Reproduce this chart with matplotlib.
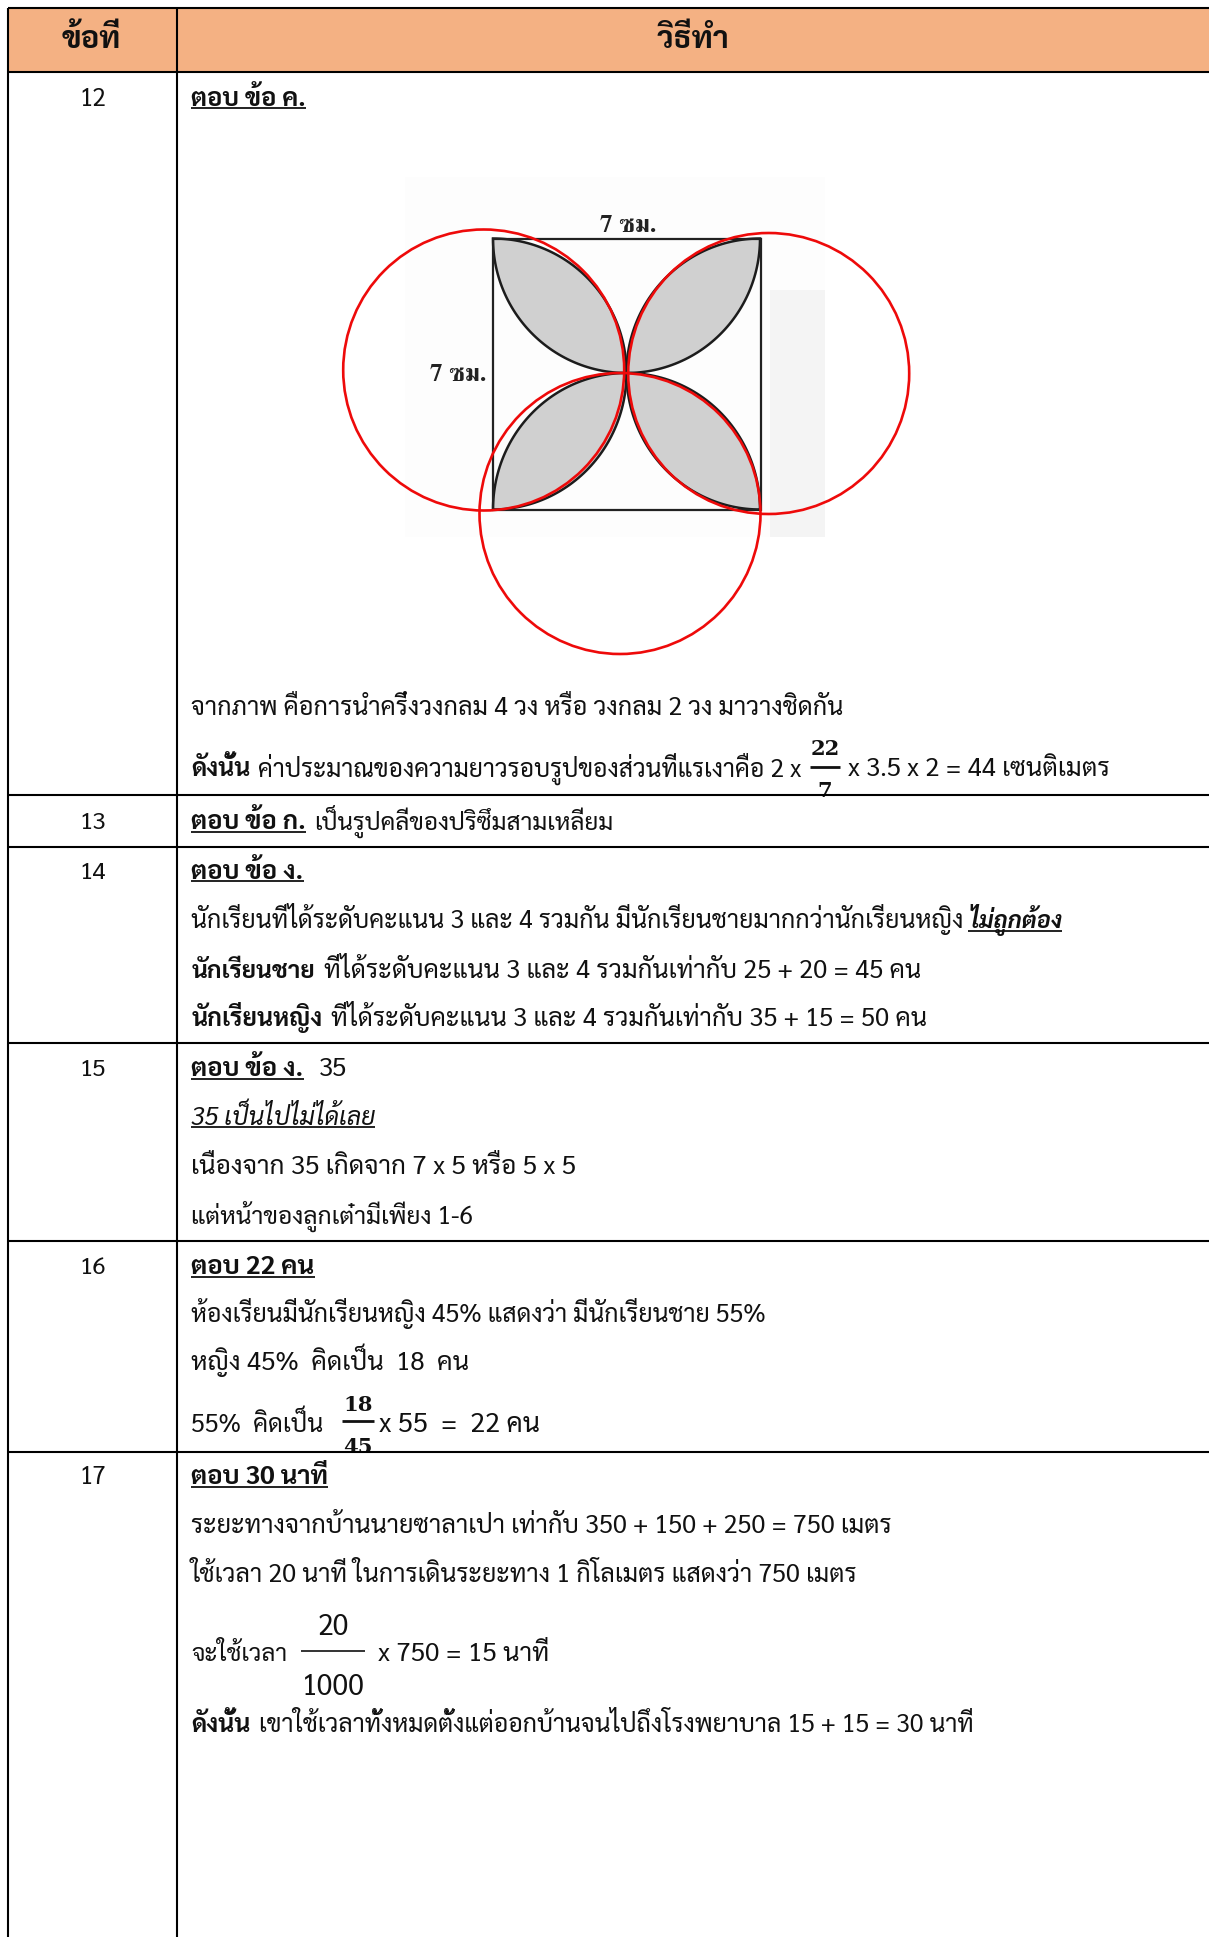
import numpy as np
import matplotlib
matplotlib.use('Agg')
import matplotlib.pyplot as plt
from matplotlib.patches import Rectangle, Circle, Polygon

plt.rcParams['font.family'] = ['Sarabun', 'DejaVu Sans']
W, H = 1209, 1937
S = 1209 / 979  # positions below were read in the 979-wide view

# ---- table content ----
header_labels = ["ข้อที่", "วิธีทำ"]
row_numbers = ["12", "13", "14", "15", "16", "17"]

lines_q12 = ["ตอบ ข้อ ค.",
             "จากภาพ คือการนำครึ่งวงกลม 4 วง หรือ วงกลม 2 วง มาวางชิดกัน",
             "ดังนั้น", "ค่าประมาณของความยาวรอบรูปของส่วนที่แรเงาคือ 2 x",
             "x 3.5 x 2 = 44 เซนติเมตร"]
lines_q13 = ["ตอบ ข้อ ก.", "เป็นรูปคลี่ของปริซึมสามเหลี่ยม"]
lines_q14 = ["ตอบ ข้อ ง.",
             "นักเรียนที่ได้ระดับคะแนน 3 และ 4 รวมกัน มีนักเรียนชายมากกว่านักเรียนหญิง", "ไม่ถูกต้อง",
             "นักเรียนชาย", "ที่ได้ระดับคะแนน 3 และ 4 รวมกันเท่ากับ 25 + 20 = 45 คน",
             "นักเรียนหญิง", "ที่ได้ระดับคะแนน 3 และ 4 รวมกันเท่ากับ 35 + 15 = 50 คน"]
lines_q15 = ["ตอบ ข้อ ง.", "35", "35 เป็นไปไม่ได้เลย",
             "เนื่องจาก 35 เกิดจาก 7 x 5 หรือ 5 x 5",
             "แต่หน้าของลูกเต๋ามีเพียง 1-6"]
lines_q16 = ["ตอบ 22 คน",
             "ห้องเรียนมีนักเรียนหญิง 45% แสดงว่า มีนักเรียนชาย 55%",
             "หญิง 45%  คิดเป็น  18  คน",
             "55%  คิดเป็น", "x 55  =  22 คน"]
lines_q17 = ["ตอบ 30 นาที",
             "ระยะทางจากบ้านนายซาลาเปา เท่ากับ 350 + 150 + 250 = 750 เมตร",
             "ใช้เวลา 20 นาที ในการเดินระยะทาง 1 กิโลเมตร แสดงว่า 750 เมตร",
             "จะใช้เวลา", "x 750 = 15 นาที",
             "ดังนั้น", "เขาใช้เวลาทั้งหมดตั้งแต่ออกบ้านจนไปถึงโรงพยาบาล 15 + 15 = 30 นาที"]
figure_labels = ["7 ซม.", "7 ซม."]
frac_q12 = ("22", "7")
frac_q16 = ("18", "45")
frac_q17 = ("20", "1000")

fig = plt.figure(figsize=(W / 100, H / 100), dpi=100)
ax = fig.add_axes([0, 0, 1, 1])
ax.set_xlim(0, W)
ax.set_ylim(H, 0)
ax.axis('off')
rend = fig.canvas.get_renderer()

RULE = 1.5


def put(text, x0, x1, center, bold=False, italic=False, ul=False, size=14.2):
    """One text run fitted between x0 and x1 (979-wide view), centre line given."""
    xa, xb = x0 * S, x1 * S
    base = center * S + 9.5
    t = ax.text(xa, base, text, va='baseline', ha='left', color='#111111',
                fontsize=size, fontweight='bold' if bold else 'normal',
                fontstyle='italic' if italic else 'normal')
    w = t.get_window_extent(rend).width
    t.set_fontsize(size * (xb - xa) / w)
    if ul:
        ax.plot([xa, xb], [base + 2.5, base + 2.5], color='#111111', lw=1.3,
                solid_capstyle='butt', zorder=3)
    return t


# header fill
ax.add_patch(Rectangle((8, 8), W - 8, 64, facecolor='#F4B183', edgecolor='none', zorder=0))

# scanned picture
ax.add_patch(Rectangle((405, 177), 420, 360, facecolor='#FDFDFD', edgecolor='none', zorder=0))
ax.add_patch(Rectangle((770, 290), 55, 247, facecolor='#F4F4F4', edgecolor='none', zorder=0))
sq_l, sq_r, sq_t, sq_b = 493, 761, 238.5, 509.5
cx, cy = 626.5, 373
rx = cx - sq_l


def quarter(xc, yc, ry, t0, t1, n=60):
    th = np.linspace(t0, t1, n)
    return np.c_[xc + rx * np.cos(th), yc + ry * np.sin(th)]


for sx, sy in [(-1, -1), (1, -1), (-1, 1), (1, 1)]:
    corner_x = cx + sx * rx
    corner_y = sq_b if sy > 0 else sq_t
    ry = abs(corner_y - cy)
    # arc centred on the side midpoint, from the corner to the centre
    t_a = np.linspace(0, np.pi / 2, 60)
    a = np.c_[corner_x - sx * rx * np.sin(t_a), cy + sy * ry * np.cos(t_a)]
    # arc centred on the top/bottom midpoint, from the centre back to the corner
    b = np.c_[cx + sx * rx * np.sin(t_a), corner_y - sy * ry * np.cos(t_a)]
    ax.add_patch(Polygon(np.r_[a, b], closed=True, facecolor='#D0D0D0',
                         edgecolor='#1c1c1c', lw=1.8, zorder=1))
ax.add_patch(Rectangle((sq_l, sq_t), sq_r - sq_l, sq_b - sq_t, fill=False,
                       edgecolor='#222222', lw=1.6, zorder=1))
ax.text(628, 232, figure_labels[0], ha='center', va='baseline', fontsize=18, fontweight='bold',
        family=['FreeSerif', 'DejaVu Serif'], color='#222222', zorder=2)
ax.text(458, 381, figure_labels[1], ha='center', va='baseline', fontsize=18, fontweight='bold',
        family=['FreeSerif', 'DejaVu Serif'], color='#222222', zorder=2)
for (x, y) in [(483.7, 370), (768.7, 373.5), (620, 513.5)]:
    ax.add_patch(Circle((x, y), 140.5, fill=False, edgecolor='#EE0A0A', lw=1.9, zorder=4))

# table rules
row_rules = [795, 847, 1043, 1241, 1452]
for y in [8, 72] + row_rules:
    ax.plot([8, W], [y, y], color='black', lw=RULE, solid_capstyle='butt', zorder=3)
ax.plot([8, 8], [8, H], color='black', lw=RULE, zorder=3, solid_capstyle='butt')
ax.plot([176.5, 176.5], [8, H], color='black', lw=RULE, zorder=3, solid_capstyle='butt')

# header text
put(header_labels[0], 50, 98, 31, bold=True, size=19)
put(header_labels[1], 532, 590, 31, bold=True, size=19)

# row numbers
for lab, c in zip(row_numbers, [78, 664, 704, 864, 1024, 1194]):
    put(lab, 64.5, 86, c)

# question 12
put(lines_q12[0], 155, 248, 78, bold=True, ul=True)
put(lines_q12[1], 155, 684, 571)
put(lines_q12[2], 155, 203, 621, bold=True)
put(lines_q12[3], 209, 650, 621)
put(lines_q12[4], 687, 899, 621)
# question 13
put(lines_q13[0], 155, 248, 664, bold=True, ul=True)
put(lines_q13[1], 254, 497, 664)
# question 14
put(lines_q14[0], 155, 246, 704, bold=True, ul=True)
put(lines_q14[1], 155, 778, 744)
put(lines_q14[2], 784, 860, 744, bold=True, italic=True, ul=True)
put(lines_q14[3], 155, 255, 784, bold=True)
put(lines_q14[4], 262, 745, 784)
put(lines_q14[5], 155, 261, 823, bold=True)
put(lines_q14[6], 268, 750, 823)
# question 15
put(lines_q15[0], 155, 246, 864, bold=True, ul=True)
put(lines_q15[1], 258, 281, 864)
put(lines_q15[2], 155, 304, 903, italic=True, ul=True)
put(lines_q15[3], 155, 467, 943)
put(lines_q15[4], 155, 383, 983)
# question 16
put(lines_q16[0], 155, 255, 1024, bold=True, ul=True)
put(lines_q16[1], 155, 620, 1063)
put(lines_q16[2], 155, 380, 1102)
put(lines_q16[3], 155, 262, 1152)
put(lines_q16[4], 307, 437, 1152)
# question 17
put(lines_q17[0], 155, 266, 1194, bold=True, ul=True)
put(lines_q17[1], 155, 722, 1234)
put(lines_q17[2], 154, 693, 1273)
put(lines_q17[3], 155, 233, 1337)
put(lines_q17[4], 306, 444, 1337)
put(lines_q17[5], 155, 203, 1395, bold=True)
put(lines_q17[6], 210, 790, 1395)


def fraction(pair, xc, half, bar_y, num_base, den_base, clip_y=None, bold=True, size=15.2, lw=2.0):
    kw = dict(ha='center', va='baseline', color='#111111', fontsize=size, zorder=2)
    if bold:
        kw.update(family='DejaVu Serif', fontweight='bold')
    ax.text(xc, num_base, pair[0], **kw)
    d = ax.text(xc, den_base, pair[1], **kw)
    if clip_y is not None:
        d.set_clip_path(Rectangle((0, 0), W, clip_y, transform=ax.transData))
    ax.plot([xc - half, xc + half], [bar_y, bar_y], color='#111111', lw=lw, solid_capstyle='butt')


fraction(frac_q12, 825, 15, 767, 755, 797, clip_y=794)
fraction(frac_q16, 358, 16, 1421, 1411, 1453, clip_y=1451)
fraction(frac_q17, 333, 32, 1651, 1635, 1695, bold=False, size=20.5, lw=1.2)

fig.savefig('out.png', dpi=100)
